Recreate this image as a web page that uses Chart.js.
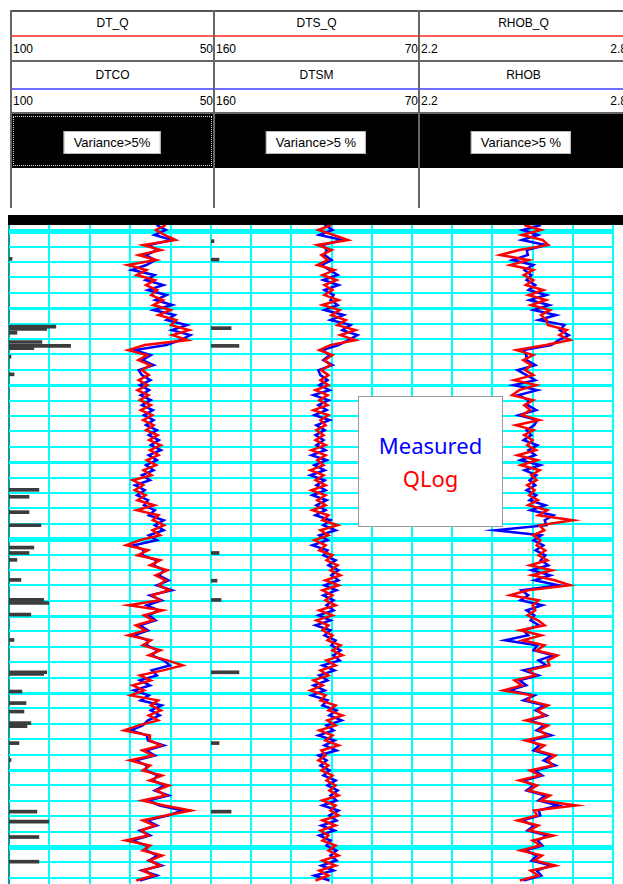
<!DOCTYPE html>
<html lang="en">
<head>
  <meta charset="UTF-8" />
  <title>QLog vs Measured</title>
  <script src="https://cdn.jsdelivr.net/npm/chart.js"></script>
  <style>
    body { margin: 0; width: 623px; height: 884px; overflow: hidden; background: #fff; position: relative;
           font-family: "Liberation Sans", Arial, sans-serif; font-size: 12px; color: #000; }
    .a { position: absolute; }
    .line { position: absolute; }
    .cell { position: absolute; text-align: center; white-space: nowrap; }
    .lft { position: absolute; text-align: left; }
    .rgt { position: absolute; text-align: right; }
    .var { position: absolute; top: 131px; height: 21px; line-height: 21px; background: #fff; border: 1px solid #bbb;
           font-size: 13px; color: #000; padding: 0 9px; transform: translateX(-50%); white-space: nowrap; }
    canvas { position: absolute; }
    #legendBox { position: absolute; left: 358px; top: 396px; width: 143px; height: 129px; background: #fff;
                 border: 1px solid #999; font-family: "Noto Sans", "Open Sans", sans-serif; font-size: 22px;
                 text-align: center; z-index: 5; }
  </style>
</head>
<body>
  <!-- en-tete des pistes -->
  <div class="line" style="left:10px;top:10px;width:617px;height:2px;background:#555"></div>
  <div class="line" style="left:10px;top:10px;width:2px;height:198px;background:#666"></div>
  <div class="line" style="left:12px;top:35px;width:615px;height:2px;background:#ff5a5a"></div>
  <div class="line" style="left:12px;top:60px;width:615px;height:2px;background:#666"></div>
  <div class="line" style="left:12px;top:88px;width:615px;height:2px;background:#6e6eff"></div>
  <div class="line" style="left:12px;top:112px;width:615px;height:2px;background:#666"></div>

  <div class="cell" style="left:12px;top:12px;width:201px;line-height:23px">DT_Q</div>
  <div class="cell" style="left:215px;top:12px;width:203px;line-height:23px">DTS_Q</div>
  <div class="cell" style="left:420px;top:12px;width:207px;line-height:23px">RHOB_Q</div>
  <div class="lft" style="left:13px;top:38px;line-height:22px">100</div>
  <div class="rgt" style="left:150px;width:63px;top:38px;line-height:22px">50</div>
  <div class="lft" style="left:216px;top:38px;line-height:22px">160</div>
  <div class="rgt" style="left:355px;width:63px;top:38px;line-height:22px">70</div>
  <div class="lft" style="left:421px;top:38px;line-height:22px">2.2</div>
  <div class="rgt" style="left:564px;width:63px;top:38px;line-height:22px">2.8</div>

  <div class="cell" style="left:12px;top:62px;width:201px;line-height:26px">DTCO</div>
  <div class="cell" style="left:215px;top:62px;width:203px;line-height:26px">DTSM</div>
  <div class="cell" style="left:420px;top:62px;width:207px;line-height:26px">RHOB</div>
  <div class="lft" style="left:13px;top:90px;line-height:22px">100</div>
  <div class="rgt" style="left:150px;width:63px;top:90px;line-height:22px">50</div>
  <div class="lft" style="left:216px;top:90px;line-height:22px">160</div>
  <div class="rgt" style="left:355px;width:63px;top:90px;line-height:22px">70</div>
  <div class="lft" style="left:421px;top:90px;line-height:22px">2.2</div>
  <div class="rgt" style="left:564px;width:63px;top:90px;line-height:22px">2.8</div>

  <div class="a" style="left:12px;top:114px;width:615px;height:54px;background:#000"></div>
  <div class="a" style="left:13px;top:116px;width:197px;height:48px;border:1px dotted #ddd"></div>
  <div class="var" style="left:112px">Variance&gt;5%</div>
  <div class="var" style="left:316px">Variance&gt;5 %</div>
  <div class="var" style="left:521px">Variance&gt;5 %</div>

  <div class="line" style="left:213px;top:10px;width:2px;height:198px;background:#666"></div>
  <div class="line" style="left:418px;top:10px;width:2px;height:198px;background:#666"></div>

  <!-- barre noire au-dessus des pistes -->
  <div class="a" style="left:8px;top:215px;width:615px;height:10px;background:#000"></div>

  <canvas id="track1" width="206" height="663" style="left:7px;top:223px"></canvas>
  <canvas id="track2" width="205" height="663" style="left:209px;top:223px"></canvas>
  <canvas id="track3" width="205" height="663" style="left:410px;top:223px"></canvas>

  <div id="legendBox">
    <div style="color:#0000ff;margin-top:33px;line-height:30px">Measured</div>
    <div style="color:#ff0000;line-height:36px">QLog</div>
  </div>

  <script>
    // Profondeur (ft) : echantillonnage regulier du log
    const DEPTH_TOP = 4998.2;
    const DEPTH_STEP = 0.65;
    const DEPTH_BOTTOM = 5083.8;

    // Piste 1 : sonique compression (us/ft), echelle 100 -> 50
    const DTCO = [
      63.5, 61.2, 64.0, 59.6, 65.5, 63.2, 66.2, 63.8, 66.0, 69.6,
      64.0, 66.2, 61.8, 65.6, 61.0, 63.8, 59.6, 64.2, 59.0, 61.0,
      56.0, 59.7, 55.1, 57.6, 61.0, 68.9, 64.9, 67.0, 64.2, 67.9,
      67.1, 65.0, 67.6, 65.3, 67.4, 64.9, 67.1, 64.4, 66.6, 64.2,
      66.1, 63.4, 65.4, 62.9, 64.9, 62.4, 65.4, 63.4, 66.1, 64.2,
      67.1, 65.1, 68.8, 66.4, 68.3, 65.6, 66.6, 63.9, 65.4, 61.7,
      63.9, 61.7, 65.4, 63.4, 69.1, 66.6, 67.1, 63.4, 64.2, 61.5,
      62.9, 60.5, 63.4, 59.7, 65.1, 62.2, 65.9, 62.9, 65.4, 63.7,
      67.6, 65.6, 69.1, 65.6, 65.9, 63.2, 64.7, 61.7, 60.2, 64.7,
      63.4, 67.6, 65.1, 69.1, 65.4, 67.4, 62.2, 64.9, 62.7, 65.6,
      66.9, 69.8, 65.9, 65.6, 61.7, 66.1, 63.9, 68.8, 65.9, 66.1,
      63.2, 64.4, 61.5, 63.9, 60.5, 65.6, 62.7, 57.0, 60.7, 65.9,
      63.4, 67.6, 65.1, 69.6, 65.9, 66.1, 63.2, 65.4, 62.2, 67.1,
      63.4, 67.6
    ];
    const DT_Q = [
      61.2, 63.6, 61.5, 58.8, 66.8, 62.4, 67.9, 63.6, 70.6, 66.0,
      68.4, 63.9, 66.1, 63.3, 64.8, 61.9, 64.3, 60.0, 63.0, 58.6,
      59.9, 55.4, 59.6, 55.8, 66.4, 70.5, 65.8, 68.0, 65.0, 67.1,
      65.4, 67.9, 65.7, 68.2, 65.5, 67.6, 64.9, 67.4, 64.5, 66.8,
      64.2, 66.1, 63.2, 65.3, 62.4, 65.1, 63.0, 65.9, 63.6, 66.7,
      64.7, 69.4, 66.8, 68.9, 66.2, 68.2, 64.0, 68.4, 63.0, 64.4,
      61.6, 64.5, 62.6, 67.7, 71.0, 65.6, 68.2, 62.6, 65.1, 60.8,
      63.7, 61.2, 62.9, 60.3, 64.6, 62.7, 70.4, 62.0, 66.6, 64.3,
      68.6, 66.2, 70.5, 64.9, 66.9, 62.5, 65.4, 60.8, 57.0, 61.9,
      67.6, 64.9, 69.4, 66.6, 69.9, 63.1, 64.9, 62.4, 65.4, 63.1,
      67.9, 71.5, 65.1, 65.2, 62.4, 67.0, 64.4, 70.1, 65.1, 66.9,
      62.1, 65.2, 60.4, 63.5, 61.2, 67.0, 61.6, 55.0, 61.2, 66.9,
      63.9, 67.2, 65.6, 71.1, 65.1, 66.9, 62.1, 65.2, 62.6, 66.9,
      64.1, 68.5
    ];

    // Piste 2 : sonique cisaillement (us/ft), echelle 160 -> 70
    const DTSM = [
      109.2, 105.6, 111.5, 101.0, 110.1, 108.2, 109.2, 106.0, 110.6, 106.9,
      103.3, 109.7, 102.9, 109.2, 105.1, 106.5, 103.3, 109.2, 100.6, 106.5,
      97.5, 101.2, 94.4, 98.5, 102.9, 110.1, 106.9, 109.7, 105.6, 111.9,
      111.0, 107.8, 111.5, 106.9, 114.1, 107.4, 111.9, 108.2, 113.7, 106.9,
      112.8, 109.1, 113.2, 109.6, 112.8, 108.7, 115.0, 108.2, 113.7, 109.1,
      115.5, 109.1, 112.8, 108.7, 114.6, 108.2, 112.8, 108.7, 113.2, 106.5,
      109.7, 104.2, 111.5, 107.8, 114.6, 107.8, 109.7, 104.2, 107.4, 102.9,
      106.1, 102.9, 109.2, 103.8, 109.7, 105.1, 108.3, 105.1, 111.9, 106.5,
      113.2, 106.5, 109.2, 104.2, 106.1, 102.0, 105.2, 102.4, 110.1, 104.7,
      111.5, 107.8, 114.1, 109.1, 115.0, 107.8, 110.1, 103.8, 107.0, 101.5,
      108.3, 105.1, 111.9, 104.7, 109.2, 103.8, 111.9, 108.2, 111.0, 106.9,
      109.7, 104.2, 107.9, 103.3, 106.5, 103.8, 110.1, 102.9, 107.0, 103.8,
      110.6, 104.7, 111.5, 106.5, 108.3, 103.8, 106.5, 103.8, 110.6, 105.1,
      113.7, 106.9
    ];
    const DTS_Q = [
      106.2, 111.9, 105.1, 98.7, 112.4, 106.0, 110.6, 107.8, 112.4, 104.7,
      110.1, 103.8, 109.2, 105.6, 109.2, 102.9, 110.1, 102.4, 106.1, 99.7,
      103.4, 95.3, 102.1, 95.3, 106.6, 111.5, 105.6, 109.2, 106.5, 110.6,
      107.4, 111.0, 107.4, 113.2, 107.8, 111.5, 107.8, 114.1, 107.4, 111.0,
      108.7, 112.8, 109.6, 113.2, 108.7, 115.0, 108.7, 112.4, 109.6, 115.5,
      109.6, 113.2, 108.7, 115.0, 108.7, 112.4, 108.7, 114.6, 107.4, 110.1,
      103.3, 111.0, 107.4, 113.7, 108.7, 111.5, 105.6, 108.3, 103.3, 106.5,
      102.0, 108.8, 102.9, 110.1, 105.6, 108.8, 104.2, 111.5, 105.6, 112.8,
      107.4, 110.1, 105.6, 107.9, 102.0, 105.6, 101.1, 108.3, 104.2, 111.0,
      107.4, 114.1, 110.0, 115.5, 108.7, 111.0, 104.2, 107.4, 101.1, 107.9,
      104.2, 111.5, 105.6, 108.8, 102.9, 110.6, 108.7, 111.9, 107.4, 110.6,
      105.6, 108.3, 104.2, 107.0, 102.9, 110.1, 104.2, 106.5, 102.9, 110.1,
      104.2, 111.0, 107.4, 110.1, 104.2, 107.4, 102.9, 110.1, 104.2, 111.5,
      107.4, 113.2
    ];

    // Piste 3 : densite (g/cc), echelle 2.2 -> 2.8
    const RHOB = [
      2.585, 2.530, 2.576, 2.528, 2.600, 2.542, 2.546, 2.500, 2.562, 2.536,
      2.556, 2.542, 2.568, 2.548, 2.601, 2.551, 2.610, 2.563, 2.630, 2.578,
      2.655, 2.641, 2.668, 2.638, 2.616, 2.533, 2.541, 2.542, 2.568, 2.515,
      2.542, 2.568, 2.503, 2.574, 2.518, 2.547, 2.545, 2.571, 2.518, 2.574,
      2.565, 2.542, 2.556, 2.533, 2.574, 2.548, 2.568, 2.524, 2.583, 2.536,
      2.571, 2.551, 2.568, 2.542, 2.571, 2.551, 2.598, 2.554, 2.622, 2.596,
      2.601, 2.448, 2.586, 2.563, 2.592, 2.569, 2.598, 2.584, 2.607, 2.557,
      2.613, 2.566, 2.637, 2.527, 2.547, 2.524, 2.589, 2.542, 2.565, 2.554,
      2.580, 2.533, 2.547, 2.478, 2.574, 2.563, 2.622, 2.578, 2.601, 2.533,
      2.577, 2.521, 2.541, 2.490, 2.565, 2.533, 2.595, 2.569, 2.601, 2.551,
      2.595, 2.572, 2.616, 2.554, 2.580, 2.563, 2.616, 2.593, 2.628, 2.566,
      2.589, 2.533, 2.562, 2.542, 2.598, 2.578, 2.637, 2.578, 2.583, 2.527,
      2.565, 2.545, 2.604, 2.575, 2.589, 2.536, 2.574, 2.557, 2.616, 2.572,
      2.586, 2.533
    ];
    const RHOB_Q = [
      2.535, 2.585, 2.528, 2.590, 2.606, 2.520, 2.463, 2.548, 2.493, 2.562,
      2.534, 2.562, 2.540, 2.592, 2.548, 2.600, 2.555, 2.612, 2.585, 2.602,
      2.605, 2.662, 2.640, 2.672, 2.600, 2.512, 2.562, 2.532, 2.556, 2.538,
      2.562, 2.505, 2.571, 2.520, 2.499, 2.562, 2.535, 2.553, 2.528, 2.580,
      2.510, 2.563, 2.535, 2.560, 2.544, 2.570, 2.515, 2.574, 2.525, 2.581,
      2.556, 2.572, 2.544, 2.566, 2.550, 2.576, 2.547, 2.604, 2.577, 2.680,
      2.580, 2.595, 2.562, 2.583, 2.572, 2.598, 2.578, 2.604, 2.552, 2.618,
      2.558, 2.626, 2.672, 2.546, 2.493, 2.578, 2.560, 2.568, 2.545, 2.576,
      2.596, 2.522, 2.586, 2.530, 2.595, 2.572, 2.634, 2.605, 2.610, 2.548,
      2.568, 2.506, 2.528, 2.472, 2.558, 2.545, 2.606, 2.575, 2.596, 2.540,
      2.606, 2.580, 2.604, 2.538, 2.595, 2.572, 2.628, 2.605, 2.620, 2.552,
      2.582, 2.520, 2.574, 2.548, 2.612, 2.585, 2.690, 2.564, 2.574, 2.515,
      2.577, 2.550, 2.622, 2.560, 2.583, 2.524, 2.588, 2.566, 2.628, 2.554,
      2.577, 2.522
    ];

    // Drapeaux de variance > 5 % (profondeur, longueur en % de la piste)
    const DT_VAR_DEPTH = [5002.6, 5011.4, 5011.7, 5012.2, 5013.4, 5013.9, 5014.2, 5015.3, 5017.6,
      5032.6, 5033.5, 5035.5, 5037.2, 5040.1, 5040.8, 5041.7, 5044.3, 5046.9, 5047.3, 5048.8,
      5052.1, 5056.3, 5056.5, 5058.8, 5060.3, 5061.4, 5062.9, 5063.3, 5065.5, 5067.7,
      5074.4, 5075.7, 5077.7, 5080.9];
    const DT_VAR = [1.5, 23.2, 18.7, 3.9, 16.3, 30.5, 12.3, 1.0, 2.5,
      14.8, 9.9, 9.9, 15.8, 12.3, 9.9, 3.9, 5.9, 17.2, 19.7, 10.8,
      2.5, 18.7, 17.2, 6.4, 8.4, 7.4, 10.8, 8.9, 4.9, 1.0,
      13.8, 19.7, 14.8, 14.8];
    const DTS_VAR_DEPTH = [5000.3, 5002.7, 5011.6, 5013.9, 5040.8, 5044.4, 5046.9, 5056.3, 5065.5, 5074.4];
    const DTS_VAR = [1.5, 4.0, 10.0, 13.9, 4.0, 3.0, 5.0, 13.9, 4.0, 10.0];
    const RHOB_VAR_DEPTH = [];
    const RHOB_VAR = [];

    // Graduations (lignes de grille verticales) de chaque piste
    const DT_TICKS = [50, 60, 70, 80, 90, 100];
    const DTS_TICKS = [70, 88, 106, 124, 142, 160];
    const RHOB_TICKS = [2.2, 2.32, 2.44, 2.56, 2.68, 2.8];

    const depths = DT_Q.map((_, i) => +(DEPTH_TOP + i * DEPTH_STEP).toFixed(2));
    // lignes horizontales : tous les 2 ft, epaisses tous les 10 ft et 40 ft
    const gridDepths = [];
    for (let d = 5000; d <= DEPTH_BOTTOM; d += 2) gridDepths.push(d);

    function toPoints(values) {
      return values.map((v, i) => ({ x: v, y: depths[i] }));
    }

    function makeTrack(canvasId, scale, ticks, measured, qlog, varDepth, varValues) {
      const ctx = document.getElementById(canvasId).getContext('2d');
      return new Chart(ctx, {
        type: 'line',
        data: {
          datasets: [
            { label: 'QLog', data: toPoints(qlog), borderColor: '#ff0000', borderWidth: 2.5, order: 0, xAxisID: 'x', yAxisID: 'y' },
            { label: 'Measured', data: toPoints(measured), borderColor: '#0000ff', borderWidth: 2.5, order: 1, xAxisID: 'x', yAxisID: 'y' },
            { type: 'bar', label: 'Variance', data: varValues.map((v, i) => ({ x: v, y: varDepth[i] })),
              backgroundColor: '#3c3c3c', barThickness: 3, order: 2, xAxisID: 'xv', yAxisID: 'y' }
          ]
        },
        options: {
          responsive: false,
          animation: false,
          devicePixelRatio: 1,
          indexAxis: 'y',
          layout: { padding: 2 },
          plugins: { legend: { display: false }, tooltip: { enabled: false } },
          elements: { point: { radius: 0 }, line: { tension: 0 } },
          scales: {
            x: {
              type: 'linear', min: scale.min, max: scale.max, reverse: scale.reverse,
              afterBuildTicks: s => { s.ticks = ticks.map(v => ({ value: v })); },
              afterFit: s => { s.height = 0; },
              ticks: { display: false },
              border: { display: false },
              grid: {
                drawTicks: false, lineWidth: 2,
                color: c => (scale.edge && c.tick && c.tick.value === scale.edge) ? '#109a9a' : '#00ffff'
              }
            },
            xv: { type: 'linear', min: 0, max: 100, display: false },
            y: {
              type: 'linear', min: DEPTH_TOP, max: DEPTH_BOTTOM, reverse: true, offset: false,
              afterBuildTicks: s => { s.ticks = gridDepths.map(v => ({ value: v })); },
              afterFit: s => { s.width = 0; },
              ticks: { display: false },
              border: { display: false },
              grid: {
                drawTicks: false, color: '#00ffff',
                lineWidth: c => {
                  const k = c.tick ? c.tick.value - 5000 : 1;
                  if (k % 40 === 0) return 5;
                  if (k % 10 === 0) return 3;
                  return 2;
                }
              }
            }
          }
        }
      });
    }

    makeTrack('track1', { min: 50, max: 100, reverse: true, edge: 100 }, DT_TICKS, DTCO, DT_Q, DT_VAR_DEPTH, DT_VAR);
    makeTrack('track2', { min: 70, max: 160, reverse: true }, DTS_TICKS, DTSM, DTS_Q, DTS_VAR_DEPTH, DTS_VAR);
    makeTrack('track3', { min: 2.2, max: 2.8, reverse: false }, RHOB_TICKS, RHOB, RHOB_Q, RHOB_VAR_DEPTH, RHOB_VAR);
  </script>
</body>
</html>
